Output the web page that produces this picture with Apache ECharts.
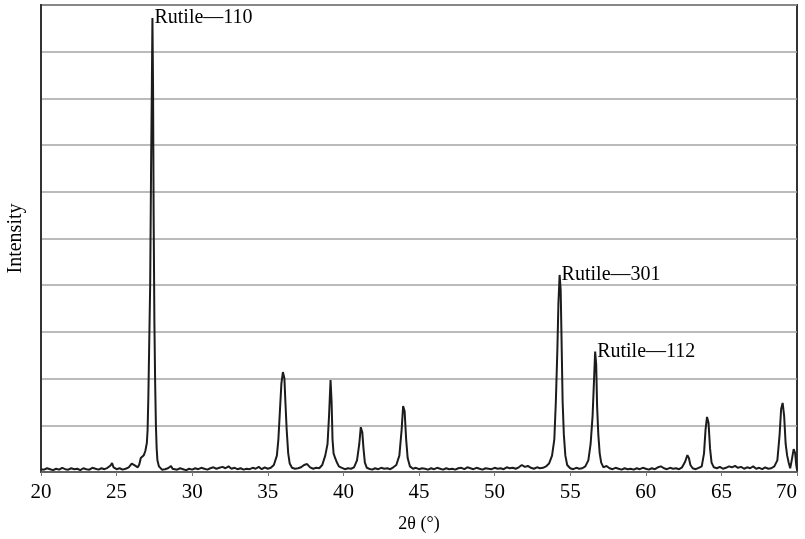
<!DOCTYPE html>
<html>
<head>
<meta charset="utf-8">
<script src="https://cdn.jsdelivr.net/npm/echarts@6/dist/echarts.min.js"></script>
<style>html,body{margin:0;padding:0;background:#fff;}#c{width:805px;height:539px;}</style>
</head>
<body>
<div id="c"></div>
<script>
// 2θ positions (degrees)
var twoTheta = [
20.0,20.2,20.4,20.6,20.8,21.0,21.2,21.4,21.6,21.8,22.0,22.2,22.4,22.6,22.8,23.0,23.2,23.4,23.6,23.8,
24.0,24.2,24.4,24.6,24.7,24.8,25.0,25.2,25.4,25.6,25.8,26.0,26.1,26.2,26.3,26.4,26.5,26.6,26.7,26.8,
26.9,27.0,27.05,27.1,27.15,27.22,27.28,27.33,27.37,27.41,27.45,27.5,27.55,27.6,27.65,27.7,27.8,27.9,
28.0,28.2,28.4,28.6,28.7,28.8,29.0,29.2,29.4,29.6,29.8,30.0,30.2,30.4,30.6,30.8,31.0,31.2,31.4,31.6,31.8,
32.0,32.2,32.4,32.6,32.8,33.0,33.2,33.4,33.6,33.8,34.0,34.2,34.4,34.6,34.8,35.0,35.2,35.4,35.6,35.7,35.8,
35.9,36.0,36.1,36.15,36.25,36.35,36.45,36.6,36.8,37.0,37.2,37.4,37.6,37.8,38.0,38.2,38.4,38.6,38.8,38.95,
39.05,39.15,39.22,39.28,39.35,39.45,39.55,39.7,39.9,40.1,40.3,40.5,40.7,40.9,41.05,41.15,41.25,41.33,41.42,
41.55,41.7,41.9,42.1,42.3,42.5,42.7,42.9,43.1,43.3,43.5,43.7,43.85,43.95,44.05,44.15,44.25,44.4,44.6,44.8,
45.0,45.2,45.4,45.6,45.8,46.0,46.2,46.4,46.6,46.8,47.0,47.2,47.4,47.6,47.8,48.0,48.2,48.4,48.6,48.8,49.0,
49.2,49.4,49.6,49.8,50.0,50.2,50.4,50.6,50.8,51.0,51.2,51.4,51.6,51.8,52.0,52.2,52.4,52.6,52.8,53.0,53.2,
53.4,53.6,53.8,53.95,54.05,54.15,54.22,54.3,54.37,54.43,54.5,54.58,54.68,54.8,55.0,55.2,55.4,55.6,55.8,
56.0,56.2,56.35,56.48,56.58,56.65,56.72,56.78,56.86,56.95,57.05,57.2,57.4,57.6,57.8,58.0,58.2,58.4,58.6,
58.8,59.0,59.2,59.4,59.6,59.8,60.0,60.2,60.4,60.6,60.8,61.0,61.2,61.4,61.6,61.8,62.0,62.2,62.4,62.6,62.75,
62.85,62.95,63.1,63.3,63.5,63.7,63.85,63.95,64.05,64.15,64.25,64.35,64.5,64.7,64.9,65.1,65.3,65.5,65.7,65.9,
66.1,66.3,66.5,66.7,66.9,67.1,67.3,67.5,67.7,67.9,68.1,68.3,68.5,68.7,68.85,68.95,69.05,69.15,69.25,69.35,
69.45,69.55,69.65,69.78,69.88,69.95,70.0
];
// intensity (arbitrary units, grid lines = 1 unit)
var intensity = [
0.06,0.05,0.08,0.06,0.04,0.07,0.05,0.09,0.06,0.05,0.08,0.06,0.07,0.04,0.08,0.06,0.05,0.09,0.07,0.05,
0.08,0.06,0.09,0.14,0.19,0.10,0.06,0.08,0.05,0.07,0.10,0.18,0.22,0.14,0.12,0.10,0.16,0.30,0.34,0.36,
0.45,0.62,0.9,1.6,2.6,4.0,6.5,8.2,9.72,8.3,5.5,3.2,1.9,1.0,0.5,0.25,0.12,0.08,
0.05,0.06,0.08,0.13,0.07,0.09,0.05,0.08,0.06,0.04,0.07,0.05,0.08,0.06,0.09,0.07,0.05,0.08,0.10,0.07,0.09,
0.11,0.08,0.12,0.07,0.09,0.06,0.08,0.05,0.07,0.06,0.09,0.07,0.11,0.06,0.10,0.07,0.09,0.15,0.35,0.7,1.3,
1.9,2.14,2.0,1.6,0.9,0.4,0.18,0.09,0.07,0.08,0.10,0.15,0.17,0.10,0.07,0.09,0.08,0.15,0.35,0.6,
1.2,1.97,1.5,0.7,0.4,0.3,0.22,0.12,0.09,0.06,0.08,0.07,0.10,0.25,0.6,0.96,0.85,0.5,0.2,
0.09,0.07,0.05,0.08,0.06,0.09,0.07,0.08,0.06,0.10,0.15,0.35,0.9,1.41,1.3,0.7,0.3,0.12,0.07,0.09,
0.06,0.08,0.07,0.05,0.08,0.06,0.09,0.07,0.05,0.08,0.06,0.07,0.05,0.08,0.09,0.06,0.10,0.08,0.06,0.09,0.07,
0.05,0.08,0.07,0.06,0.09,0.07,0.08,0.06,0.10,0.08,0.09,0.07,0.10,0.15,0.11,0.13,0.09,0.07,0.10,0.08,0.09,
0.12,0.18,0.35,0.7,1.5,2.6,3.6,4.22,3.9,2.8,1.5,0.8,0.35,0.15,0.08,0.06,0.09,0.07,0.08,
0.12,0.25,0.6,1.2,2.0,2.58,2.3,1.4,0.8,0.4,0.2,0.10,0.13,0.08,0.06,0.09,0.07,0.05,0.08,
0.06,0.07,0.05,0.08,0.06,0.09,0.07,0.05,0.08,0.06,0.10,0.12,0.08,0.06,0.09,0.07,0.08,0.06,0.10,0.22,0.36,
0.30,0.15,0.08,0.06,0.09,0.12,0.4,0.9,1.18,1.05,0.5,0.2,0.10,0.08,0.11,0.07,0.09,0.12,0.10,0.13,
0.09,0.11,0.07,0.10,0.08,0.12,0.07,0.09,0.06,0.10,0.07,0.08,0.12,0.25,0.8,1.35,1.48,1.2,0.6,0.35,
0.2,0.08,0.25,0.49,0.4,0.15,0.05
];
// peak annotations
var peakNames = ['Rutile\u2014110', 'Rutile\u2014301', 'Rutile\u2014112'];
var peakX = [27.37, 54.3, 56.65];
var peakY = [9.72, 4.22, 2.58];
var xTicks = [20,25,30,35,40,45,50,55,60,65,70];

var lineData = twoTheta.map(function (x, i) { return [x, intensity[i]]; });
var labelData = peakNames.map(function (n, i) { return [peakX[i], peakY[i], n]; });
var FONT = '"Liberation Serif", "DejaVu Serif", serif';

var chart = echarts.init(document.getElementById('c'), null, {renderer: 'canvas'});
chart.setOption({
  animation: false,
  backgroundColor: '#fff',
  grid: {left: 41, right: 8, top: 5, bottom: 67, show: true, borderColor: '#333', borderWidth: 2,
    backgroundColor: 'transparent', containLabel: false, outerBoundsMode: 'none'},
  xAxis: {
    type: 'value', min: 20, max: 70, interval: 5,
    name: '2\u03b8 (\u00b0)', nameLocation: 'middle', nameGap: 43,
    nameTextStyle: {fontFamily: FONT, fontSize: 18, color: '#000'},
    axisLine: {show: true, lineStyle: {color: '#555', width: 1.5}},
    axisTick: {show: true, inside: false, length: 4, lineStyle: {color: '#777'}},
    axisLabel: {fontFamily: FONT, fontSize: 21, color: '#000', margin: 10,
      alignMaxLabel: 'right',
      formatter: function (v) { return xTicks.indexOf(v) >= 0 ? String(v) : ''; }},
    splitLine: {show: false}
  },
  yAxis: {
    type: 'value', min: 0, max: 10, interval: 1,
    name: 'Intensity', nameLocation: 'middle', nameGap: 15,
    nameTextStyle: {fontFamily: FONT, fontSize: 20, color: '#000'},
    axisLine: {show: true, lineStyle: {color: '#333', width: 2}},
    axisTick: {show: false},
    axisLabel: {show: false},
    splitLine: {show: true, lineStyle: {color: '#a5a5a5', width: 1.5}}
  },
  series: [
    {
      type: 'line', data: lineData, showSymbol: false, symbol: 'none',
      lineStyle: {color: '#1c1c1c', width: 2}, z: 3
    },
    {
      type: 'scatter', data: labelData, symbolSize: 0.01, z: 4,
      itemStyle: {color: '#000', opacity: 1},
      label: {show: true, position: 'right', distance: 2, offset: [0, 0],
        formatter: function (p) { return p.data[2]; },
        fontFamily: FONT, fontSize: 20, color: '#000', opacity: 1, textBorderWidth: 0}
    }
  ]
});
</script>
</body>
</html>
